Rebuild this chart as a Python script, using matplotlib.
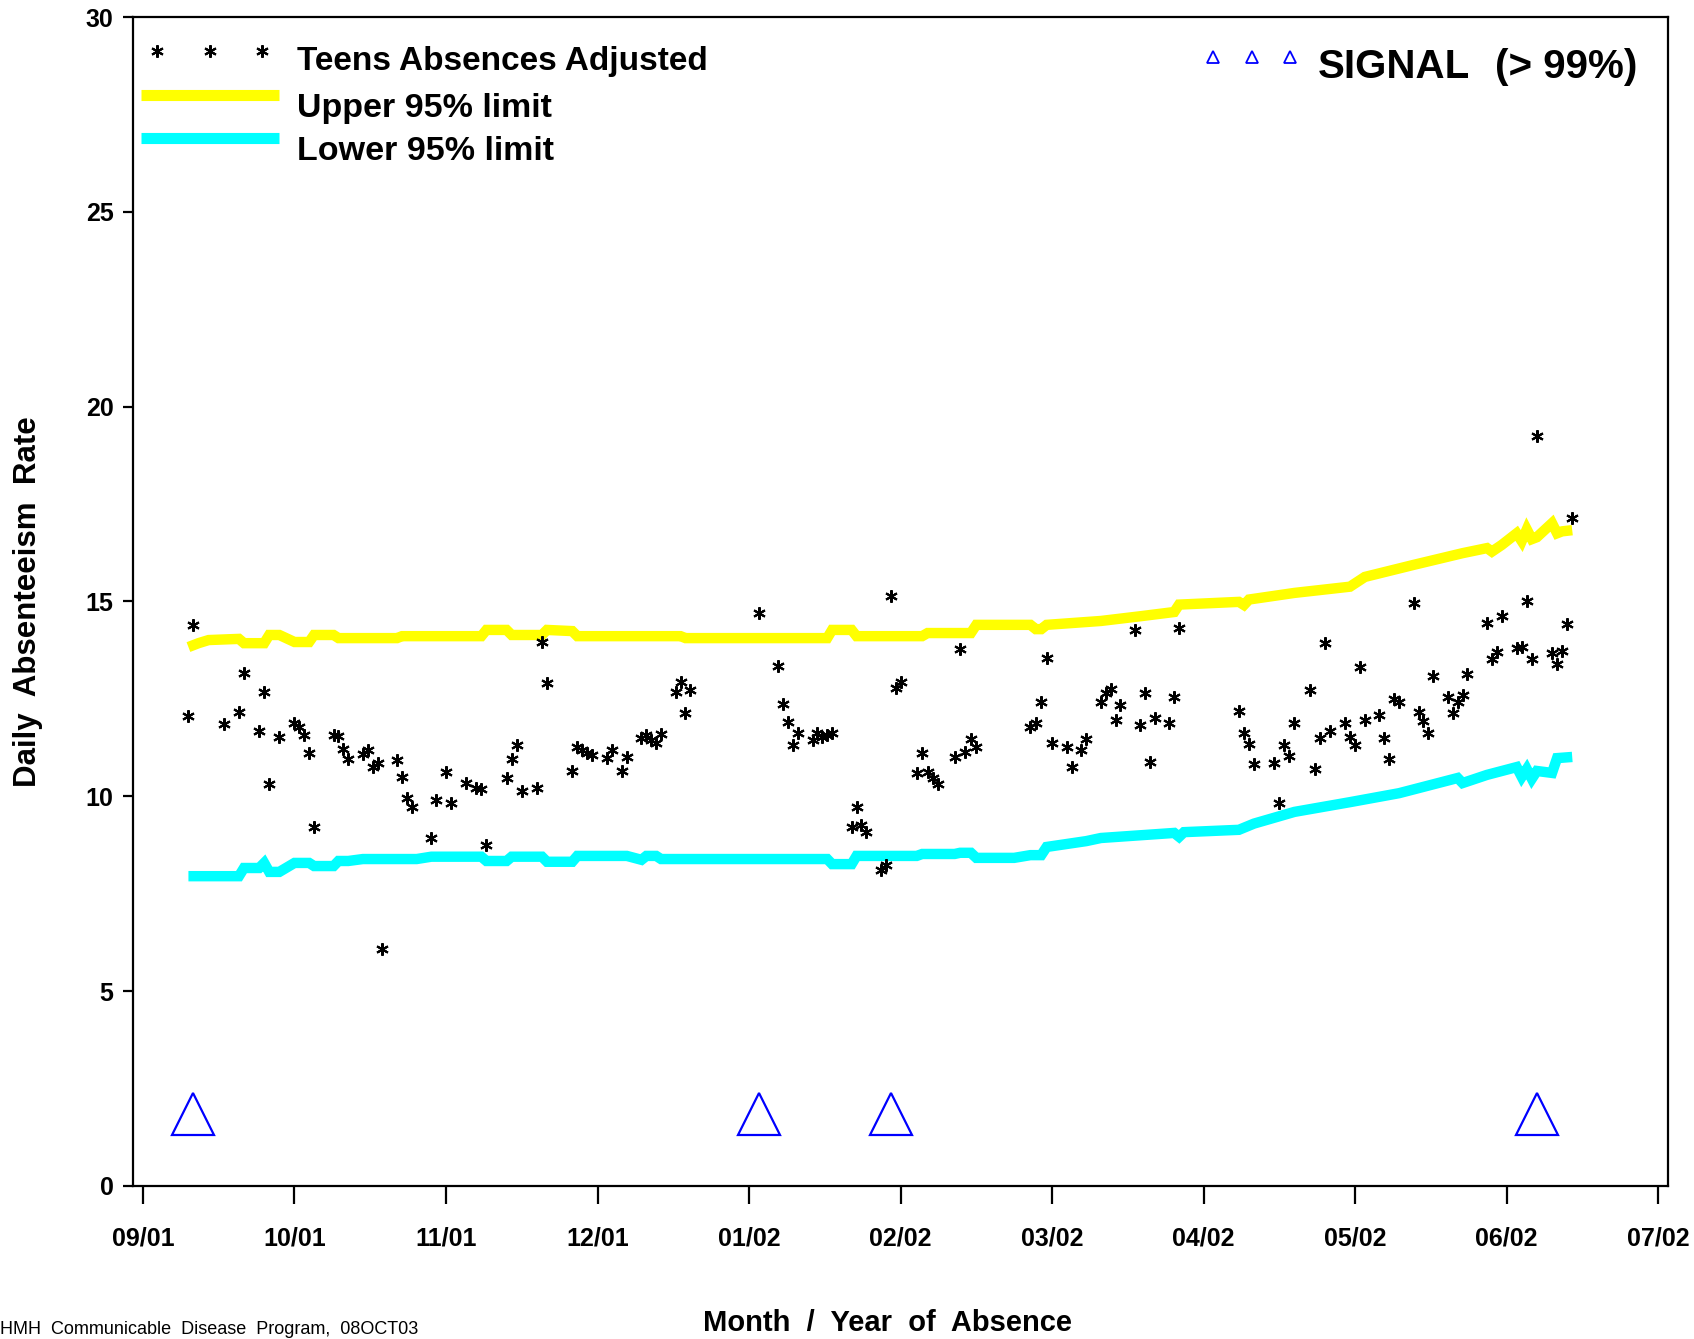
import calendar
import matplotlib
matplotlib.use("Agg")
import matplotlib.pyplot as plt

plt.rcParams['font.family'] = ['Liberation Sans', 'DejaVu Sans']

# daily adjusted absence rate, teens
teen_dates = [
    '2001-09-10', '2001-09-11', '2001-09-17', '2001-09-20', '2001-09-21', '2001-09-24',
    '2001-09-25', '2001-09-26', '2001-09-28',
    '2001-10-01', '2001-10-02', '2001-10-03', '2001-10-04', '2001-10-05', '2001-10-09',
    '2001-10-10', '2001-10-11', '2001-10-12', '2001-10-15', '2001-10-16', '2001-10-17',
    '2001-10-18', '2001-10-19', '2001-10-22', '2001-10-23', '2001-10-24', '2001-10-25',
    '2001-10-29', '2001-10-30',
    '2001-11-01', '2001-11-02', '2001-11-05', '2001-11-07', '2001-11-08', '2001-11-09',
    '2001-11-13', '2001-11-14', '2001-11-15', '2001-11-16', '2001-11-19', '2001-11-20',
    '2001-11-21', '2001-11-26', '2001-11-27', '2001-11-28', '2001-11-29', '2001-11-30',
    '2001-12-03', '2001-12-04', '2001-12-06', '2001-12-07', '2001-12-10', '2001-12-11',
    '2001-12-12', '2001-12-13', '2001-12-14', '2001-12-17', '2001-12-18', '2001-12-19',
    '2001-12-20',
    '2002-01-03', '2002-01-07', '2002-01-08', '2002-01-09', '2002-01-10', '2002-01-11',
    '2002-01-14', '2002-01-15', '2002-01-16', '2002-01-17', '2002-01-18', '2002-01-22',
    '2002-01-23', '2002-01-24', '2002-01-25', '2002-01-28', '2002-01-29', '2002-01-30',
    '2002-01-31',
    '2002-02-01', '2002-02-04', '2002-02-05', '2002-02-06', '2002-02-07', '2002-02-08',
    '2002-02-11', '2002-02-12', '2002-02-13', '2002-02-14', '2002-02-15', '2002-02-25',
    '2002-02-26', '2002-02-27', '2002-02-28',
    '2002-03-01', '2002-03-04', '2002-03-05', '2002-03-07', '2002-03-08', '2002-03-11',
    '2002-03-12', '2002-03-13', '2002-03-14', '2002-03-15', '2002-03-18', '2002-03-19',
    '2002-03-20', '2002-03-21', '2002-03-22', '2002-03-25', '2002-03-26', '2002-03-27',
    '2002-04-08', '2002-04-09', '2002-04-10', '2002-04-11', '2002-04-15', '2002-04-16',
    '2002-04-17', '2002-04-18', '2002-04-19', '2002-04-22', '2002-04-23', '2002-04-24',
    '2002-04-25', '2002-04-26', '2002-04-29', '2002-04-30',
    '2002-05-01', '2002-05-02', '2002-05-03', '2002-05-06', '2002-05-07', '2002-05-08',
    '2002-05-09', '2002-05-10', '2002-05-13', '2002-05-14', '2002-05-15', '2002-05-16',
    '2002-05-17', '2002-05-20', '2002-05-21', '2002-05-22', '2002-05-23', '2002-05-24',
    '2002-05-28', '2002-05-29', '2002-05-30', '2002-05-31',
    '2002-06-03', '2002-06-04', '2002-06-05', '2002-06-06', '2002-06-07', '2002-06-10',
    '2002-06-11', '2002-06-12', '2002-06-13', '2002-06-14',
]
teen_rate = [
    12.06, 14.40, 11.86, 12.16, 13.16, 11.68,
    12.68, 10.32, 11.52,
    11.88, 11.78, 11.57, 11.11, 9.21, 11.57,
    11.55, 11.21, 10.96, 11.09, 11.19, 10.75,
    10.85, 6.08, 10.93, 10.50, 9.96, 9.73,
    8.93, 9.91,
    10.62, 9.83, 10.34, 10.21, 10.19, 8.75,
    10.47, 10.96, 11.32, 10.14, 10.21, 13.96,
    12.91, 10.65, 11.27, 11.19, 11.11, 11.06,
    10.98, 11.19, 10.65, 11.01, 11.50, 11.57,
    11.44, 11.37, 11.60, 12.68, 12.93, 12.14,
    12.73,
    14.70, 13.34, 12.37, 11.91, 11.32, 11.62,
    11.44, 11.62, 11.52, 11.57, 11.62, 9.21,
    9.73, 9.26, 9.08, 8.11, 8.24, 15.14,
    12.78,
    12.93, 10.60, 11.11, 10.62, 10.47, 10.32,
    11.01, 13.78, 11.14, 11.47, 11.27, 11.78,
    11.88, 12.42, 13.55,
    11.37, 11.27, 10.75, 11.19, 11.47, 12.42,
    12.65, 12.75, 11.96, 12.34, 14.27, 11.83,
    12.65, 10.88, 12.01, 11.88, 12.55, 14.32,
    12.19, 11.62, 11.34, 10.83, 10.85, 9.83,
    11.32, 11.03, 11.88, 12.73, 10.70, 11.50,
    13.93, 11.68, 11.88, 11.52,
    11.32, 13.32, 11.96, 12.09, 11.50, 10.96,
    12.50, 12.42, 14.96, 12.16, 11.93, 11.62,
    13.09, 12.55, 12.14, 12.42, 12.60, 13.14,
    14.45, 13.52, 13.70, 14.63,
    13.81, 13.83, 15.01, 13.52, 19.25, 13.68,
    13.40, 13.73, 14.42, 17.14,
]

upper_dates = [
    '2001-09-10', '2001-09-12', '2001-09-14', '2001-09-20', '2001-09-21', '2001-09-25',
    '2001-09-26', '2001-09-28', '2001-10-01', '2001-10-04', '2001-10-05', '2001-10-09',
    '2001-10-10', '2001-10-22', '2001-10-23', '2001-11-08', '2001-11-09', '2001-11-13',
    '2001-11-14', '2001-11-20', '2001-11-21', '2001-11-26', '2001-11-27', '2001-12-18',
    '2001-12-19', '2002-01-17', '2002-01-18', '2002-01-22', '2002-01-23', '2002-02-05',
    '2002-02-06', '2002-02-14', '2002-02-15', '2002-02-25', '2002-02-26', '2002-02-27',
    '2002-02-28', '2002-03-11', '2002-03-19', '2002-03-26', '2002-03-27', '2002-04-08',
    '2002-04-09', '2002-04-10', '2002-04-19', '2002-04-30', '2002-05-03', '2002-05-13',
    '2002-05-23', '2002-05-28', '2002-05-29', '2002-05-31', '2002-06-03', '2002-06-04',
    '2002-06-05', '2002-06-06', '2002-06-07', '2002-06-10', '2002-06-11', '2002-06-12',
    '2002-06-14',
]
upper_vals = [
    13.83, 13.93, 14.01, 14.04, 13.93, 13.93,
    14.14, 14.14, 13.96, 13.96, 14.14, 14.14,
    14.06, 14.06, 14.11, 14.11, 14.27, 14.27,
    14.14, 14.14, 14.27, 14.24, 14.11, 14.11,
    14.06, 14.06, 14.27, 14.27, 14.11, 14.11,
    14.19, 14.19, 14.40, 14.40, 14.29, 14.29,
    14.40, 14.50, 14.62, 14.73, 14.92, 14.99,
    14.91, 15.05, 15.22, 15.38, 15.63, 15.94,
    16.24, 16.37, 16.28, 16.45, 16.75, 16.55,
    16.85, 16.60, 16.65, 17.01, 16.75, 16.80,
    16.83,
]

lower_dates = [
    '2001-09-10', '2001-09-20', '2001-09-21', '2001-09-24', '2001-09-25', '2001-09-26',
    '2001-09-28', '2001-10-01', '2001-10-04', '2001-10-05', '2001-10-09', '2001-10-10',
    '2001-10-12', '2001-10-15', '2001-10-26', '2001-10-29', '2001-11-08', '2001-11-09',
    '2001-11-13', '2001-11-14', '2001-11-20', '2001-11-21', '2001-11-26', '2001-11-27',
    '2001-12-07', '2001-12-10', '2001-12-11', '2001-12-13', '2001-12-14', '2002-01-17',
    '2002-01-18', '2002-01-22', '2002-01-23', '2002-02-04', '2002-02-05', '2002-02-11',
    '2002-02-12', '2002-02-14', '2002-02-15', '2002-02-22', '2002-02-25', '2002-02-27',
    '2002-02-28', '2002-03-08', '2002-03-11', '2002-03-26', '2002-03-27', '2002-03-28',
    '2002-04-08', '2002-04-11', '2002-04-19', '2002-04-30', '2002-05-10', '2002-05-22',
    '2002-05-23', '2002-05-28', '2002-06-03', '2002-06-04', '2002-06-05', '2002-06-06',
    '2002-06-07', '2002-06-10', '2002-06-11', '2002-06-14',
]
lower_vals = [
    7.95, 7.95, 8.16, 8.16, 8.29, 8.06,
    8.06, 8.29, 8.29, 8.21, 8.21, 8.34,
    8.34, 8.39, 8.39, 8.45, 8.45, 8.34,
    8.34, 8.45, 8.45, 8.32, 8.32, 8.47,
    8.47, 8.37, 8.47, 8.47, 8.39, 8.39,
    8.26, 8.26, 8.47, 8.47, 8.52, 8.52,
    8.55, 8.55, 8.42, 8.42, 8.49, 8.49,
    8.70, 8.85, 8.93, 9.06, 8.96, 9.08,
    9.14, 9.30, 9.60, 9.85, 10.08, 10.47,
    10.34, 10.55, 10.75, 10.50, 10.70, 10.45,
    10.65, 10.60, 10.98, 11.01,
]

# days flagged above the 99% level
signal_dates = ['2001-09-11', '2002-01-03', '2002-01-30', '2002-06-07']
signal_level = 1.85

month_labels = ['09/01', '10/01', '11/01', '12/01', '01/02', '02/02',
                '03/02', '04/02', '05/02', '06/02', '07/02']


def month_pos(s):
    # SAS axis spaces months evenly, so place each day inside its month
    y, m, d = (int(v) for v in s.split('-'))
    k = (y - 2001) * 12 + m - 9
    return k + (d - 1) / calendar.monthrange(y, m)[1]


fig = plt.figure(figsize=(16.94, 13.39), dpi=100)
ax = fig.add_axes([0.0785, 0.1143, 0.9062, 0.8730])

ax.plot([month_pos(d) for d in upper_dates], upper_vals, color='#ffff00', lw=7.5,
        solid_capstyle='butt', solid_joinstyle='miter', zorder=2)
ax.plot([month_pos(d) for d in lower_dates], lower_vals, color='#00ffff', lw=7.5,
        solid_capstyle='butt', solid_joinstyle='miter', zorder=2)
ax.plot([month_pos(d) for d in teen_dates], teen_rate, ls='none', marker=(6, 2, 0),
        ms=9, mew=1.5, color='black', zorder=3)
ax.plot([month_pos(d) for d in signal_dates], [signal_level] * len(signal_dates),
        ls='none', marker='^', ms=30, mfc='none', mec='#0000ff', mew=1.6, zorder=3)

ax.set_xlim(-0.066, 10.066)
ax.set_ylim(0, 30)
ax.set_xticks(range(len(month_labels)))
ax.set_xticklabels(month_labels)
ax.set_yticks(range(0, 31, 5))

for sp in ax.spines.values():
    sp.set_linewidth(1.6)
ax.tick_params(axis='x', direction='out', length=13, width=1.6, pad=16, labelsize=18)
ax.tick_params(axis='y', direction='out', length=7, width=1.6, pad=7, labelsize=18)
for lab in ax.get_xticklabels() + ax.get_yticklabels():
    lab.set_fontweight('bold')

# legend, drawn by hand like the SAS one
tr = ax.transAxes
ax.plot([0.0156, 0.0502, 0.0840], [0.9710] * 3, transform=tr, ls='none',
        marker=(6, 2, 0), ms=9, mew=1.5, color='black', clip_on=False)
ax.text(0.1068, 0.9621, 'Teens Absences Adjusted', transform=tr, fontsize=24,
        fontweight='bold', va='center', ha='left')
ax.plot([0.0052, 0.0951], [0.9333, 0.9333], transform=tr, color='#ffff00', lw=8,
        solid_capstyle='butt')
ax.text(0.1068, 0.9219, 'Upper 95% limit', transform=tr, fontsize=24.5,
        fontweight='bold', va='center', ha='left')
ax.plot([0.0052, 0.0951], [0.8965, 0.8965], transform=tr, color='#00ffff', lw=8,
        solid_capstyle='butt')
ax.text(0.1068, 0.8851, 'Lower 95% limit', transform=tr, fontsize=24.5,
        fontweight='bold', va='center', ha='left')

ax.plot([0.7036, 0.7290, 0.7537], [0.9660] * 3, transform=tr, ls='none', marker='^',
        ms=8, mfc='none', mec='#0000ff', mew=1.3)
ax.text(0.7720, 0.9575, 'SIGNAL', transform=tr, fontsize=29, fontweight='bold',
        va='center', ha='left')
ax.text(0.8870, 0.9575, '(> 99%)', transform=tr, fontsize=29, fontweight='bold',
        va='center', ha='left')

fig.text(0.0165, 0.551, 'Daily  Absenteeism  Rate', rotation=90, fontsize=22.5,
         fontweight='bold', ha='center', va='center')
fig.text(0.524, 0.012, 'Month  /  Year  of  Absence', fontsize=21, fontweight='bold',
         ha='center', va='center')
fig.text(0.0, 0.001, 'HMH  Communicable  Disease  Program,  08OCT03', fontsize=13,
         ha='left', va='bottom')

fig.savefig('out.png', dpi=100)
